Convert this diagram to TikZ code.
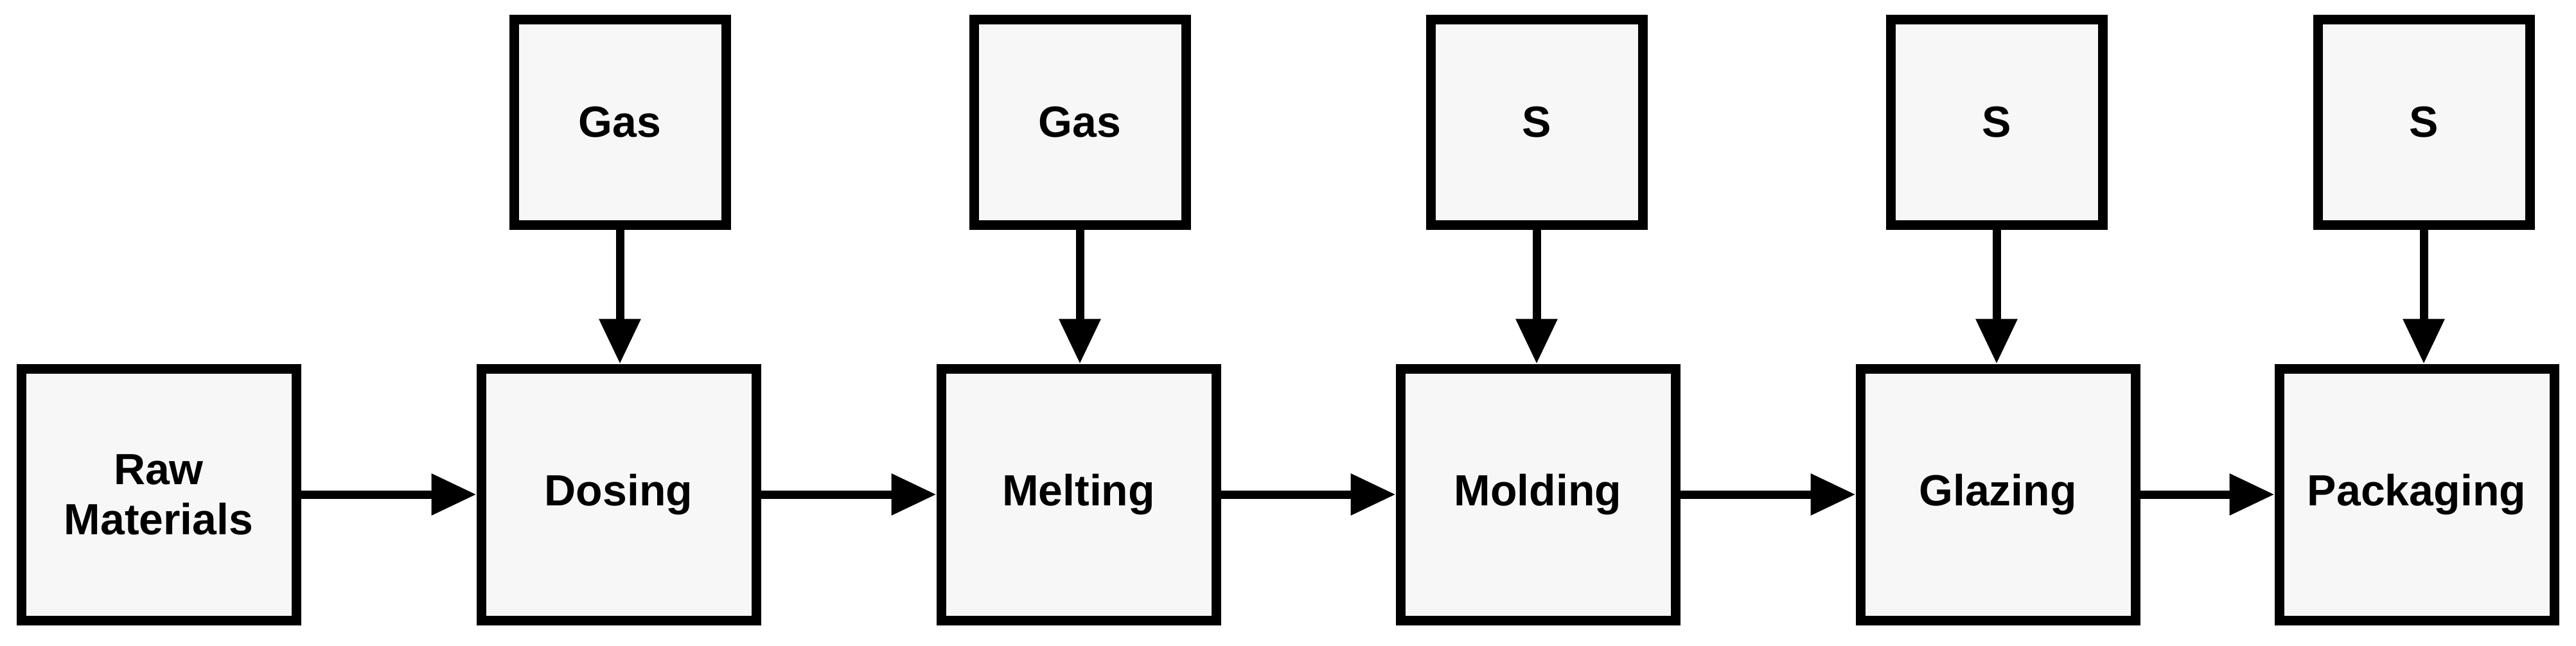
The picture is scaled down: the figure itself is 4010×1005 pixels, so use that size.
\documentclass[tikz,border=0pt]{standalone}
\usepackage{fontspec}
\setmainfont{Liberation Sans}
\usetikzlibrary{arrows.meta}
\begin{document}
\begin{tikzpicture}[x=1pt,y=-1pt,
  box/.style={draw=black,line width=15pt,fill={rgb,255:red,247;green,247;blue,247},inner sep=0pt,align=center,font=\fontsize{68}{78}\selectfont\bfseries},
  bot/.style={box,minimum width=428pt,minimum height=392pt},
  topb/.style={box,minimum width=330pt,minimum height=320pt},
  arr/.style={line width=13pt,-{Triangle[length=70pt,width=62pt]}}]
\useasboundingbox (0,0) rectangle (4010,1005);
\node[bot] (raw) at (247,770) {Raw\\Materials};
\node[bot] (dos) at (963,770) {Dosing};
\node[bot] (mel) at (1679,770) {Melting};
\node[bot] (mol) at (2394,770) {Molding};
\node[bot] (gla) at (3110,770) {Glazing};
\node[bot] (pac) at (3762,770) {Packaging};
\node[topb] (g1) at (965,190) {Gas};
\node[topb] (g2) at (1681,190) {Gas};
\node[topb] (s1) at (2392,190) {S};
\node[topb] (s2) at (3108,190) {S};
\node[topb] (s3) at (3773,190) {S};
\draw[arr] (raw.east) -- (dos.west);
\draw[arr] (dos.east) -- (mel.west);
\draw[arr] (mel.east) -- (mol.west);
\draw[arr] (mol.east) -- (gla.west);
\draw[arr] (gla.east) -- (pac.west);
\draw[arr] (g1.south) -- (g1.south |- dos.north);
\draw[arr] (g2.south) -- (g2.south |- mel.north);
\draw[arr] (s1.south) -- (s1.south |- mol.north);
\draw[arr] (s2.south) -- (s2.south |- gla.north);
\draw[arr] (s3.south) -- (s3.south |- pac.north);
\end{tikzpicture}
\end{document}
